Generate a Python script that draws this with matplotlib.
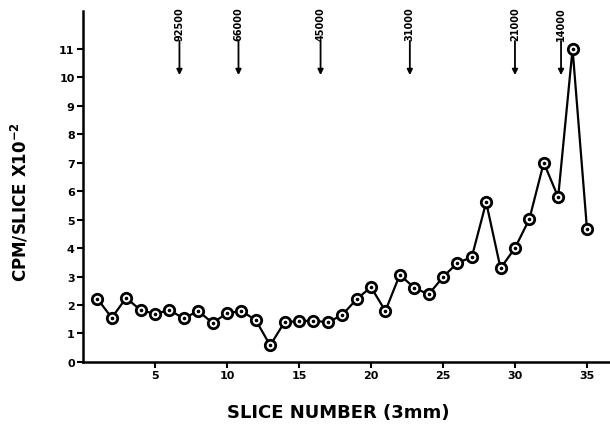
import numpy as np
from matplotlib import pyplot as plt

slices = list(range(1, 36))
cpm = [2.22, 1.55, 2.25, 1.82, 1.69, 1.82, 1.53, 1.79, 1.37, 1.71,
       1.79, 1.47, 0.58, 1.40, 1.43, 1.45, 1.39, 1.65, 2.20, 2.63,
       1.79, 3.06, 2.61, 2.37, 2.98, 3.48, 3.68, 5.61, 3.29, 4.00,
       5.02, 7.00, 5.79, 11.00, 4.68]

marker_pos = [6.7, 10.8, 16.5, 22.7, 30.0, 33.2]
marker_labels = ['92500', '66000', '45000', '31000', '21000', '14000']

x_ticks = [5, 10, 15, 20, 25, 30, 35]
y_ticks = list(range(0, 12))

fig = plt.figure(figsize = (6.1, 4.31), dpi = 100)
ax = fig.add_axes([0.136, 0.158, 0.864, 0.814])

ax.plot(slices, cpm, color = 'black', linewidth = 1.6, zorder = 2)
ax.plot(slices, cpm, linestyle = 'none', marker = 'o', markersize = 7.5,
        markerfacecolor = 'white', markeredgecolor = 'black', markeredgewidth = 2.0, zorder = 3)
ax.plot(slices, cpm, linestyle = 'none', marker = 'o', markersize = 1.6,
        color = 'black', zorder = 4)

# molecular weight markers
for pos, lab in zip(marker_pos, marker_labels):
  ax.annotate('', xy = (pos, 10.08), xytext = (pos, 11.28),
              arrowprops = dict(arrowstyle = '-|>', color = 'black', lw = 1.3,
                                mutation_scale = 8, shrinkA = 0, shrinkB = 0),
              annotation_clip = False)
  ax.text(pos, 11.3, lab, rotation = 90, ha = 'center', va = 'bottom',
          fontsize = 7, fontweight = 'bold', clip_on = False)

ax.set_xlim(0, 36.6)
ax.set_ylim(0, 12.33)
ax.set_xticks(x_ticks)
ax.set_yticks(y_ticks)

for side in ['top', 'right']:
  ax.spines[side].set_visible(False)
for side in ['left', 'bottom']:
  ax.spines[side].set_linewidth(1.8)

ax.tick_params(axis = 'both', direction = 'out', length = 4, width = 1.5,
               labelsize = 8, pad = 2)
for lab in ax.get_xticklabels() + ax.get_yticklabels():
  lab.set_fontweight('bold')

ax.set_xlabel('SLICE NUMBER (3mm)', fontsize = 13, fontweight = 'bold')
ax.xaxis.set_label_coords(0.485, -0.117)
ax.set_ylabel(r'CPM/SLICE X10$^{\mathbf{-2}}$', fontsize = 12, fontweight = 'bold')
ax.yaxis.set_label_coords(-0.1, 0.46)

fig.savefig('out.png', dpi = 100)
